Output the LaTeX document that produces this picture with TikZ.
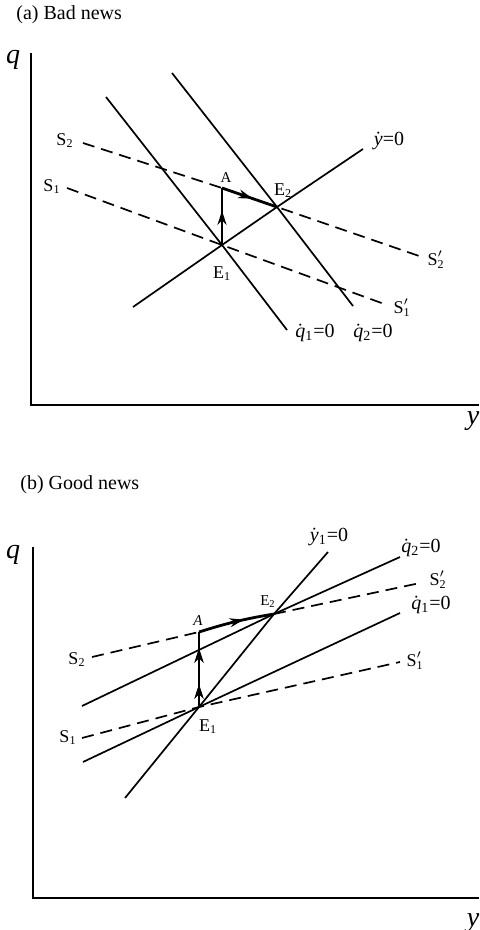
\documentclass[tikz,border=0pt]{standalone}
\usepackage{fontspec}
\setmainfont{Liberation Serif}
\usetikzlibrary{arrows.meta,decorations.markings}

\newcommand{\dv}[2]{$\dot{\mathit{#1}}_{\mathrm{#2}}$=0}

\begin{document}
\begin{tikzpicture}[x=0.5pt,y=-0.5pt,
    ax/.style={line width=1.2pt},
    crv/.style={line width=0.85pt},
    sad/.style={line width=0.85pt, dash pattern=on 6pt off 3.5pt},
    mv/.style={line width=1.4pt},
    midarr/.style={postaction={decorate}, decoration={markings,
        mark=at position #1 with {\arrow{Stealth[length=7pt,width=4.5pt]}}}},
    ttl/.style={anchor=west, inner sep=0pt, font=\fontsize{10}{12}\selectfont},
    axl/.style={inner sep=0pt, font=\fontsize{14}{16}\selectfont\itshape},
    lbl/.style={inner sep=0pt, font=\fontsize{9}{10}\selectfont},
    eql/.style={inner sep=0pt, font=\fontsize{10}{12}\selectfont},
    sml/.style={inner sep=0pt, font=\fontsize{7.5}{9}\selectfont},
  ]
  \useasboundingbox (0,0) rectangle (479,930);

  % (a) Bad news
  \begin{scope}
    \node[ttl] (ttl) at (16,15) {(a) Bad news};
    \coordinate (qtop) at (31,53); \coordinate (O) at (31,405); \coordinate (yend) at (479,405);
    \draw[ax] (qtop) -- (O) -- (yend);
    \node[axl] (ql) at (13,60) {q};
    \node[axl] (yl) at (473,421) {y};

    \coordinate (E1) at (222,245); \coordinate (E2) at (277,207); \coordinate (A) at (222,188);
    \coordinate (q1a) at (106,97);  \coordinate (q1b) at (287,330);
    \coordinate (q2a) at (172,73);  \coordinate (q2b) at (353,306);
    \coordinate (ya) at (133,307);  \coordinate (yb) at (363,149);
    \coordinate (s2a) at (83,143);  \coordinate (s2b) at (422,257);
    \coordinate (s1a) at (67,188);  \coordinate (s1b) at (387,305);

    \draw[crv] (q1a) -- (E1) -- (q1b);
    \draw[crv] (q2a) -- (E2) -- (q2b);
    \draw[crv] (ya) -- (E1) -- (E2) -- (yb);
    \draw[sad] (s2a) -- (A) -- (E2) -- (s2b);
    \draw[sad] (s1a) -- (E1) -- (s1b);
    \draw[mv, midarr=0.6] (E1) -- (A);
    \draw[mv, midarr=0.55] (A) -- (E2);

    \node[lbl] (S2) at (65,141) {S\textsubscript{2}};
    \node[lbl] (S1) at (52,187) {S\textsubscript{1}};
    \node[sml] (Al) at (226,178) {A};
    \node[lbl] (E2l) at (283,191) {E\textsubscript{2}};
    \node[lbl] (E1l) at (222,274) {E\textsubscript{1}};
    \node[eql] (yd) at (389,141) {$\dot{\mathit{y}}$=0};
    \node[lbl] (S2p) at (436,260) {S$'_{\mathrm{2}}$};
    \node[lbl] (S1p) at (402,308) {S$'_{\mathrm{1}}$};
    \node[eql] (q1d) at (315,333) {\dv{q}{1}};
    \node[eql] (q2d) at (373,333) {\dv{q}{2}};
  \end{scope}

  % (b) Good news
  \begin{scope}[shift={(0,470)}]
    \node[ttl] (ttl) at (20,15) {(b) Good news};
    \coordinate (qtop) at (33,77); \coordinate (O) at (33,428); \coordinate (yend) at (479,428);
    \draw[ax] (qtop) -- (O) -- (yend);
    \node[axl] (ql) at (13,85) {q};
    \node[axl] (yl) at (473,453) {y};

    \coordinate (E1) at (199,237); \coordinate (E2) at (274,144); \coordinate (A) at (199,162);
    \coordinate (ya) at (125,328);  \coordinate (yb) at (328,82);
    \coordinate (q2a) at (82,236);  \coordinate (q2b) at (400,87);
    \coordinate (q1a) at (83,292);  \coordinate (q1b) at (400,143);
    \coordinate (s2a) at (92,187);  \coordinate (s2b) at (420,113);
    \coordinate (s1a) at (82,268);  \coordinate (s1b) at (400,192);

    \draw[crv] (ya) -- (E1) -- (E2) -- (yb);
    \draw[crv] (q2a) -- (E2) -- (q2b);
    \draw[crv] (q1a) -- (E1) -- (q1b);
    \draw[sad] (s2a) -- (A);
    \draw[sad] (E2) -- (s2b);
    \draw[sad] (s1a) -- (E1) -- (s1b);
    \draw[mv, midarr=0.3, midarr=0.78] (E1) -- (A);
    \draw[mv, midarr=0.6] (A) to[bend left=4] (E2);

    \node[eql] (yd) at (329,67) {\dv{y}{1}};
    \node[eql] (q2d) at (421,78) {\dv{q}{2}};
    \node[lbl] (S2p) at (438,110) {S$'_{\mathrm{2}}$};
    \node[eql] (q1d) at (431,135) {\dv{q}{1}};
    \node[lbl] (S1p) at (415,191) {S$'_{\mathrm{1}}$};
    \node[sml] (E2l) at (268,132) {E\textsubscript{2}};
    \node[sml] (Al) at (198,151) {\itshape A};
    \node[lbl] (S2) at (77,190) {S\textsubscript{2}};
    \node[lbl] (S1) at (68,268) {S\textsubscript{1}};
    \node[lbl] (E1l) at (208,257) {E\textsubscript{1}};
  \end{scope}
\end{tikzpicture}
\end{document}
